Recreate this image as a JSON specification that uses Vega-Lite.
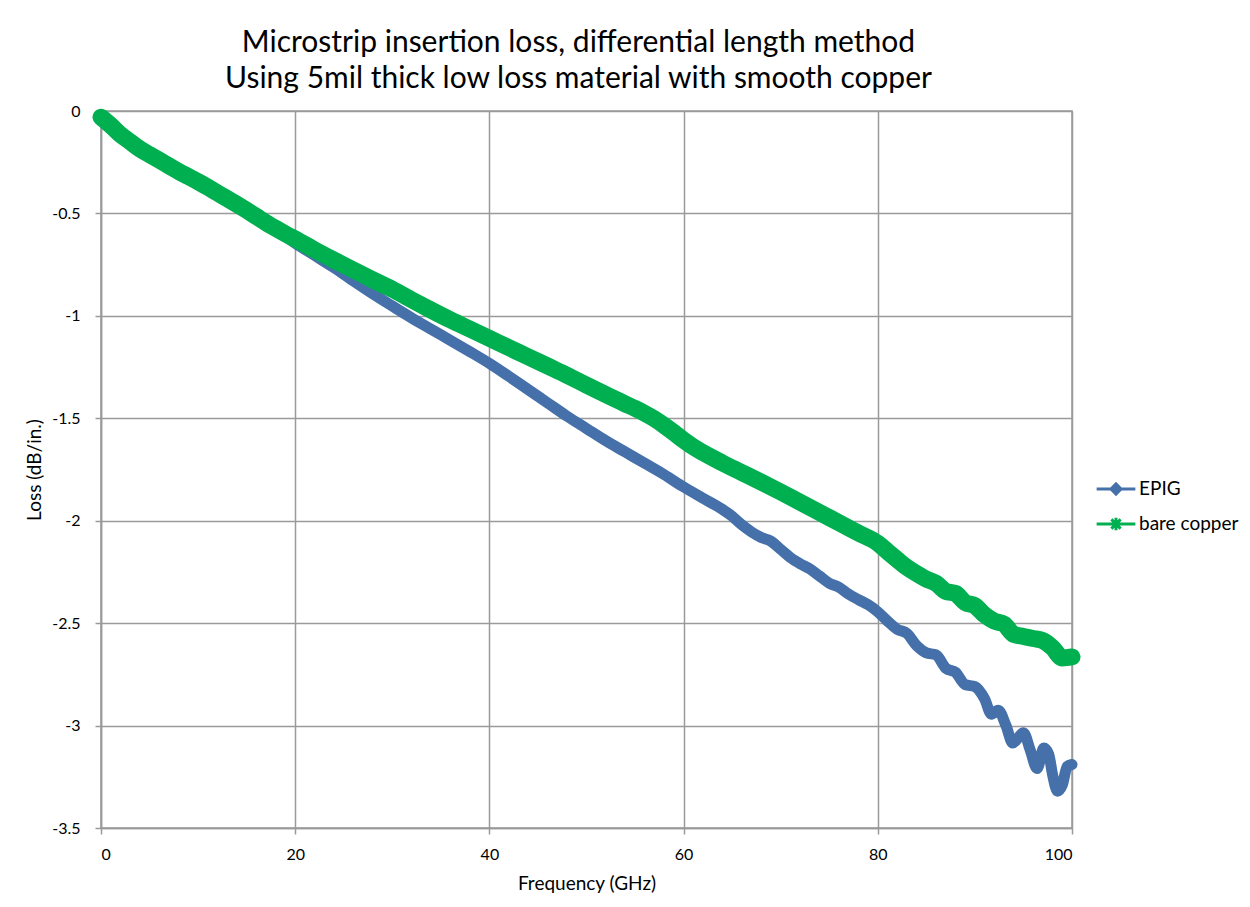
{
  "$schema": "https://vega.github.io/schema/vega-lite/v6.json",
  "autosize": {"type": "none"},
  "width": 971,
  "height": 717,
  "padding": {"left": 101, "top": 111, "right": 178, "bottom": 79},
  "background": "white",
  "title": {
    "text": ["Microstrip insertion loss, differential length method", "Using 5mil thick low loss material with smooth copper"],
    "font": "Lato",
    "fontSize": 30,
    "fontWeight": "normal",
    "lineHeight": 36,
    "color": "#000000",
    "anchor": "middle",
    "dx": -8,
    "offset": 9
  },
  "datasets": {
    "epig": [
      {"f": 0, "loss": -0.03}, {"f": 1, "loss": -0.07}, {"f": 2, "loss": -0.115}, {"f": 3, "loss": -0.15},
      {"f": 4, "loss": -0.185}, {"f": 5, "loss": -0.213}, {"f": 6, "loss": -0.24}, {"f": 7, "loss": -0.268},
      {"f": 8, "loss": -0.295}, {"f": 9, "loss": -0.32}, {"f": 10, "loss": -0.345}, {"f": 11, "loss": -0.372},
      {"f": 12, "loss": -0.4}, {"f": 13, "loss": -0.428}, {"f": 14, "loss": -0.456}, {"f": 15, "loss": -0.485},
      {"f": 16, "loss": -0.515}, {"f": 17, "loss": -0.548}, {"f": 18, "loss": -0.58}, {"f": 19, "loss": -0.612},
      {"f": 20, "loss": -0.645}, {"f": 22, "loss": -0.705}, {"f": 24, "loss": -0.765}, {"f": 26, "loss": -0.83},
      {"f": 28, "loss": -0.893}, {"f": 30, "loss": -0.952}, {"f": 32, "loss": -1.01}, {"f": 34, "loss": -1.065},
      {"f": 36, "loss": -1.12}, {"f": 38, "loss": -1.175}, {"f": 40, "loss": -1.232}, {"f": 42, "loss": -1.295},
      {"f": 44, "loss": -1.36}, {"f": 46, "loss": -1.425}, {"f": 48, "loss": -1.49}, {"f": 50, "loss": -1.55},
      {"f": 52, "loss": -1.61}, {"f": 54, "loss": -1.665}, {"f": 56, "loss": -1.72}, {"f": 58, "loss": -1.775},
      {"f": 60, "loss": -1.835}, {"f": 62, "loss": -1.89}, {"f": 64, "loss": -1.945}, {"f": 65, "loss": -1.978},
      {"f": 66, "loss": -2.02}, {"f": 67, "loss": -2.055}, {"f": 68, "loss": -2.082}, {"f": 69, "loss": -2.1},
      {"f": 70, "loss": -2.14}, {"f": 71, "loss": -2.18}, {"f": 72, "loss": -2.21}, {"f": 73, "loss": -2.235},
      {"f": 74, "loss": -2.27}, {"f": 75, "loss": -2.305}, {"f": 76, "loss": -2.325}, {"f": 77, "loss": -2.358},
      {"f": 78, "loss": -2.385}, {"f": 79, "loss": -2.41}, {"f": 80, "loss": -2.445}, {"f": 81, "loss": -2.49},
      {"f": 82, "loss": -2.53}, {"f": 83, "loss": -2.55}, {"f": 84, "loss": -2.61}, {"f": 85, "loss": -2.645},
      {"f": 86, "loss": -2.655}, {"f": 87, "loss": -2.72}, {"f": 88, "loss": -2.74}, {"f": 89, "loss": -2.8},
      {"f": 90, "loss": -2.81}, {"f": 91, "loss": -2.87}, {"f": 91.7, "loss": -2.945}, {"f": 92.4, "loss": -2.925},
      {"f": 93.2, "loss": -3.0}, {"f": 93.9, "loss": -3.085}, {"f": 95.0, "loss": -3.035}, {"f": 95.7, "loss": -3.12},
      {"f": 96.4, "loss": -3.21}, {"f": 97.1, "loss": -3.11}, {"f": 97.6, "loss": -3.14}, {"f": 98.0, "loss": -3.24},
      {"f": 98.5, "loss": -3.32}, {"f": 99.0, "loss": -3.29}, {"f": 99.5, "loss": -3.2}, {"f": 100, "loss": -3.19}
    ],
    "copper": [
      {"f": 0, "loss": -0.03}, {"f": 1, "loss": -0.07}, {"f": 2, "loss": -0.115}, {"f": 3, "loss": -0.15},
      {"f": 4, "loss": -0.185}, {"f": 5, "loss": -0.213}, {"f": 6, "loss": -0.24}, {"f": 7, "loss": -0.268},
      {"f": 8, "loss": -0.295}, {"f": 9, "loss": -0.32}, {"f": 10, "loss": -0.345}, {"f": 11, "loss": -0.372},
      {"f": 12, "loss": -0.4}, {"f": 13, "loss": -0.428}, {"f": 14, "loss": -0.456}, {"f": 15, "loss": -0.485},
      {"f": 16, "loss": -0.515}, {"f": 17, "loss": -0.545}, {"f": 18, "loss": -0.573}, {"f": 19, "loss": -0.6},
      {"f": 20, "loss": -0.625}, {"f": 22, "loss": -0.678}, {"f": 24, "loss": -0.728}, {"f": 26, "loss": -0.776},
      {"f": 28, "loss": -0.824}, {"f": 30, "loss": -0.87}, {"f": 32, "loss": -0.922}, {"f": 34, "loss": -0.972},
      {"f": 36, "loss": -1.02}, {"f": 38, "loss": -1.065}, {"f": 40, "loss": -1.11}, {"f": 42, "loss": -1.155},
      {"f": 44, "loss": -1.2}, {"f": 46, "loss": -1.245}, {"f": 48, "loss": -1.29}, {"f": 50, "loss": -1.338},
      {"f": 52, "loss": -1.385}, {"f": 54, "loss": -1.43}, {"f": 55, "loss": -1.452}, {"f": 56, "loss": -1.476},
      {"f": 57, "loss": -1.503}, {"f": 58, "loss": -1.535}, {"f": 59, "loss": -1.57}, {"f": 60, "loss": -1.607},
      {"f": 61, "loss": -1.64}, {"f": 62, "loss": -1.668}, {"f": 64, "loss": -1.718}, {"f": 66, "loss": -1.765},
      {"f": 68, "loss": -1.812}, {"f": 70, "loss": -1.86}, {"f": 72, "loss": -1.91}, {"f": 74, "loss": -1.96},
      {"f": 76, "loss": -2.01}, {"f": 78, "loss": -2.06}, {"f": 80, "loss": -2.11}, {"f": 81, "loss": -2.15},
      {"f": 82, "loss": -2.19}, {"f": 83, "loss": -2.228}, {"f": 84, "loss": -2.258}, {"f": 85, "loss": -2.285},
      {"f": 86, "loss": -2.305}, {"f": 87, "loss": -2.345}, {"f": 88, "loss": -2.355}, {"f": 89, "loss": -2.4},
      {"f": 90, "loss": -2.415}, {"f": 91, "loss": -2.46}, {"f": 92, "loss": -2.49}, {"f": 93, "loss": -2.505},
      {"f": 94, "loss": -2.555}, {"f": 95, "loss": -2.565}, {"f": 96, "loss": -2.575}, {"f": 97, "loss": -2.585},
      {"f": 98, "loss": -2.62}, {"f": 99, "loss": -2.67}, {"f": 100, "loss": -2.665}
    ]
  },
  "encoding": {
    "x": {
      "field": "f", "type": "quantitative",
      "scale": {"domain": [0, 100], "nice": false, "zero": false},
      "axis": {"values": [0, 20, 40, 60, 80, 100], "title": "Frequency (GHz)", "titlePadding": 12, "labelPadding": 12}
    },
    "y": {
      "field": "loss", "type": "quantitative",
      "scale": {"domain": [-3.5, 0], "nice": false, "zero": false},
      "axis": {"values": [0, -0.5, -1, -1.5, -2, -2.5, -3, -3.5], "title": "Loss (dB/in.)", "labelExpr": "datum.value + ''", "titlePadding": 7, "labelPadding": 15}
    }
  },
  "layer": [
    {
      "data": {"name": "epig"},
      "mark": {"type": "line", "strokeWidth": 11, "strokeJoin": "round", "strokeCap": "round", "interpolate": "monotone"},
      "encoding": {
        "color": {
          "datum": "EPIG",
          "scale": {"domain": ["EPIG"], "range": ["#4570AA"]},
          "legend": {
            "title": null, "orient": "none", "legendX": 994, "legendY": 357,
            "symbolType": "M-1,0H1M-0.26,0L0,-0.26L0.26,0L0,0.26Z",
            "symbolSize": 1500, "symbolStrokeWidth": 3, "symbolFillColor": "#4570AA",
            "labelFont": "Lato", "labelFontSize": 19, "labelColor": "#000000", "labelOffset": 2
          }
        }
      }
    },
    {
      "data": {"name": "copper"},
      "mark": {"type": "line", "strokeWidth": 17, "strokeJoin": "round", "strokeCap": "round", "interpolate": "monotone"},
      "encoding": {
        "color": {
          "datum": "bare copper",
          "scale": {"domain": ["bare copper"], "range": ["#00B050"]},
          "legend": {
            "title": null, "orient": "none", "legendX": 994, "legendY": 392,
            "symbolType": "M-1,0H1M-0.24,-0.24L0.24,0.24M-0.24,0.24L0.24,-0.24M0,-0.32V0.32",
            "symbolSize": 1500, "symbolStrokeWidth": 3, "symbolFillColor": "transparent",
            "labelFont": "Lato", "labelFontSize": 19, "labelColor": "#000000", "labelOffset": 2
          }
        }
      }
    }
  ],
  "resolve": {"scale": {"color": "independent"}},
  "config": {
    "view": {"stroke": "#999999", "strokeWidth": 1.5},
    "axis": {
      "labelFont": "Lato", "labelFontSize": 16, "labelColor": "#000000",
      "titleFont": "Lato", "titleFontSize": 19, "titleFontWeight": "normal", "titleColor": "#000000",
      "grid": true, "gridColor": "#9a9a9a", "gridWidth": 1.5,
      "domain": true, "domainColor": "#9a9a9a", "domainWidth": 1.5,
      "ticks": true, "tickColor": "#9a9a9a", "tickSize": 6, "tickWidth": 1.5
    }
  }
}
